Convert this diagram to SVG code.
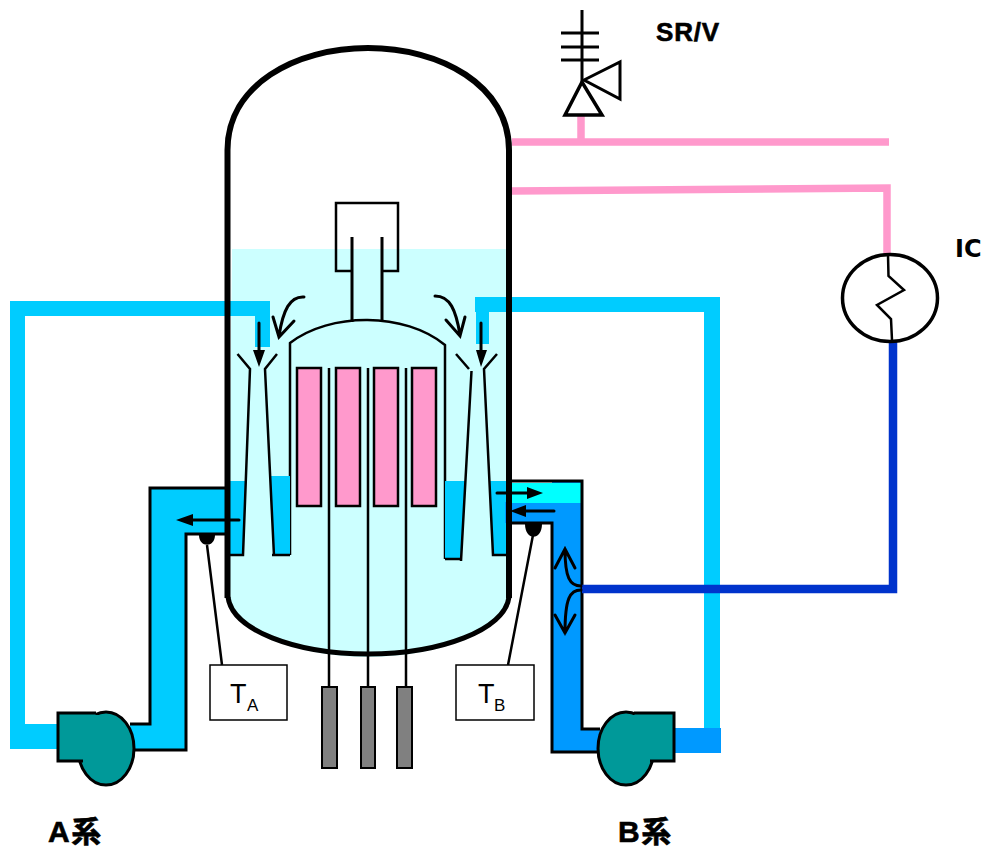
<svg xmlns="http://www.w3.org/2000/svg" width="984" height="850" viewBox="0 0 984 850">
<style>
.ln{fill:none;stroke:#000;stroke-width:2.5}
.ol{stroke:#000;stroke-width:3;stroke-linejoin:miter}
.arr{fill:none;stroke:#000;stroke-width:3;stroke-linecap:round}
.head{fill:#000;stroke:none}
.fuel{fill:#ff99cc;stroke:#000;stroke-width:2.5}
.rod{fill:#808080;stroke:#000;stroke-width:2}
.pump{fill:#009999;stroke:#000;stroke-width:3}
.lb{fill:#00ccff;stroke:none}
.sans{font-family:"Liberation Sans",Arial,sans-serif;fill:#000}
.cap{font-weight:bold;stroke:#000;stroke-width:.6}
.cjk{font-family:"Liberation Sans","Noto Sans CJK JP",sans-serif}
</style>
<rect width="984" height="850" fill="#fff"/>
<g id="water"><path d="M232,249H507V598C510,630 440,657 368,657C295,657 232,630 228,600Z" fill="#ccffff"/></g>
<g id="separator" class="ln">
<path d="M352,271H336V203H398V271H382"/><path d="M352,237V322M382,237V322" stroke-width="3"/>
</g>
<g id="core">
<path class="ln" d="M290,555V343C330,312 405,312 445,345V559"/>
<rect class="fuel" x="297" y="368" width="24" height="138"/>
<rect class="fuel" x="336" y="368" width="24" height="138"/>
<rect class="fuel" x="374" y="368" width="24" height="138"/>
<rect class="fuel" x="412" y="368" width="24" height="138"/>
<path class="ln" d="M329,368V687M368,368V687M406,368V687"/>
<rect class="rod" x="322" y="687" width="15" height="81"/>
<rect class="rod" x="361" y="687" width="14" height="81"/>
<rect class="rod" x="397" y="687" width="15" height="81"/>
</g>
<g id="jet-pump-a">
<path class="lb" d="M230,481H246L243,555H230ZM270.500,476H290V555H274Z"/>
<path class="ln" d="M237.500,354L250,369L243,555H230M277,354L265,369L274,556M272,555H290"/>
</g>
<g id="jet-pump-b">
<path class="lb" d="M445,481H465L461,559H445ZM489,481H506V555H493Z"/>
<path class="ln" d="M456,354L469,369M471.500,371L461,561M445,559H461M497,354L484,369L493,555H506"/>
</g>
<g id="piping">
<path class="lb" d="M10,301H270V347H255V316H25V724H60V749H10Z"/>
<path class="lb" d="M475,297H720V728H704V312H489V344H476V312H475Z"/>
<path d="M150,488H227V534H186V750H130V724H150Z" fill="#00ccff"/>
<path class="ol" fill="none" d="M227,488H150V724H130M130,750H186V534H227"/>
<path d="M505,502H552V481H582V729H600V752H552V523H505Z" fill="#0099ff"/>
<rect x="511" y="483" width="70" height="20" fill="#00ffff"/>
<path class="ol" fill="none" d="M511,481H582V729H600M600,752H552V523H511"/>
<rect x="674" y="728" width="47" height="25" fill="#0099ff"/>
<path d="M512,142H889M581,115V142M512,191L887,188V255" fill="none" stroke="#ff99cc" stroke-width="7.500"/>
<path d="M893,340V589H582" fill="none" stroke="#0033cc" stroke-width="8.500"/>
</g>
<g id="vessel"><path d="M227.500,598V150C227.500,85 295,48 368,48C440,48 509,85 509,150V598" fill="none" stroke="#000" stroke-width="6"/>
<path d="M228,597C232,630 295,654 368,654C440,654 505,630 509,597" fill="none" stroke="#000" stroke-width="5"/></g>
<g id="connectors">
<path class="arr" d="M259,323V352M481,323V352M239,520H190M497,493H530M554,511H524"/>
<path class="head" d="M253,350H265L259,367ZM476,350H487L481,367ZM193,514V526L176,520ZM527,487V499L543,493ZM526,505V517L510,511Z"/>
<path class="arr" d="M304,297C290,296 283,310 279,336M273,317L279,337L294,321"/>
<path class="arr" d="M435,296C450,296 456,310 460,335M446,320L460,336L465,317"/>
<path class="arr" d="M581,586C570,586 565,578 565,549M555,568L565,549L575,568"/>
<path class="arr" d="M581,590C570,590 565,598 565,633M555,615L565,633L575,615"/>
<path class="ln" d="M207,545L222,665M533,535L508,665"/>
<path class="head" d="M199,535H215C215,548 199,548 199,535ZM525,524H542C542,541 525,541 525,524Z"/>
</g>
<g id="pump-a">
<ellipse class="pump" cx="106" cy="748.500" rx="28" ry="36.500"/>
<path d="M96,713H58V761H83" fill="#009999" stroke="#000" stroke-width="3"/><rect x="60" y="715" width="46" height="44" fill="#009999"/>
</g>
<g id="pump-b">
<ellipse class="pump" cx="626" cy="748.500" rx="28" ry="36.500"/>
<path d="M634,713H674V761H650" fill="#009999" stroke="#000" stroke-width="3"/><rect x="626" y="715" width="46" height="44" fill="#009999"/>
</g>
<g id="srv" fill="none" stroke="#000" stroke-width="3">
<path d="M582,10V82M561,33H599M561,47H599M561,60H599"/>
<path d="M582,82L565,115H602Z" stroke-width="3.500"/><path d="M584,80L620,62V99Z"/>
<text class="sans cap" x="656" y="41" font-size="26" letter-spacing=".8" stroke-width=".6" fill="#000">SR/V</text>
</g>
<g id="ic">
<ellipse cx="890" cy="298" rx="47.500" ry="43.500" fill="#fff" stroke="#000" stroke-width="3.500"/>
<path d="M888,255L888.500,276L904,290L877,305L891,319L892,340" fill="none" stroke="#000" stroke-width="2.500"/>
<text x="955" y="257" font-family="'DejaVu Sans',sans-serif" font-weight="bold" font-size="24" fill="#000">IC</text>
</g>
<g id="ta"><rect x="210" y="665" width="77" height="55" fill="#fff" stroke="#000" stroke-width="1.500"/>
<text class="sans" x="230" y="703" font-size="27">T</text><text class="sans" x="247" y="711" font-size="17">A</text></g>
<g id="tb"><rect x="456" y="665" width="78" height="55" fill="#fff" stroke="#000" stroke-width="1.500"/>
<text class="sans" x="478" y="703" font-size="27">T</text><text class="sans" x="494" y="711" font-size="17">B</text></g>
<g id="labels">
<text class="cjk cap" x="48" y="842" font-size="30" letter-spacing="1.500">A系</text>
<text class="cjk cap" x="618" y="842" font-size="30" letter-spacing="1.500">B系</text>
</g>
</svg>
